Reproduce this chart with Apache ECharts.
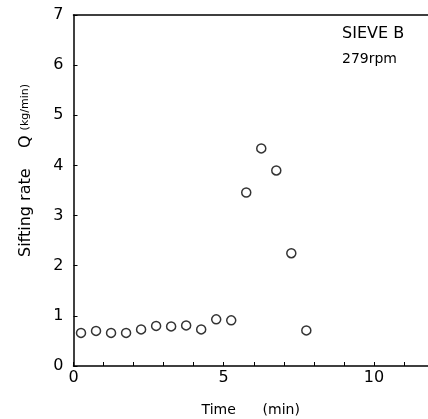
<!DOCTYPE html>
<html>
<head>
<meta charset="utf-8">
<script src="https://cdn.jsdelivr.net/npm/echarts@6/dist/echarts.min.js"></script>
<style>
  html, body { margin: 0; padding: 0; background: #fff; }
  #chart { width: 428px; height: 419px; }
</style>
</head>
<body>
<div id="chart"></div>
<script>
// time (min) and sifting rate Q (kg/min)
const times = [0.25, 0.75, 1.25, 1.75, 2.25, 2.75, 3.25, 3.75, 4.25, 4.75, 5.25, 5.75, 6.25, 6.75, 7.25, 7.75]
const rates = [0.66, 0.70, 0.66, 0.66, 0.73, 0.80, 0.79, 0.81, 0.73, 0.93, 0.91, 3.46, 4.34, 3.90, 2.25, 0.71]
const xLabels = ['0', '5', '10']
const yLabels = ['0', '1', '2', '3', '4', '5', '6', '7']

const font = '"DejaVu Sans", "Liberation Sans", sans-serif'
const chart = echarts.init(document.getElementById('chart'))

chart.setOption({
  animation: false,
  backgroundColor: '#fff',
  grid: { left: 73.5, top: 15, right: 0, bottom: 53, containLabel: false, outerBoundsMode: 'none' },
  xAxis: [
    {
      type: 'value',
      min: 0,
      max: 11.8,
      interval: 1,
      name: 'Time      (min)',
      nameLocation: 'middle',
      nameGap: 37,
      nameTextStyle: { fontFamily: font, fontSize: 14, color: '#000' },
      axisLine: { onZero: false, lineStyle: { color: '#000', width: 1.5 } },
      axisTick: { inside: true, length: 4, lineStyle: { color: '#000' } },
      axisLabel: {
        color: '#000', fontFamily: font, fontSize: 16, margin: 4,
        formatter: v => xLabels.includes(String(v)) ? String(v) : ''
      },
      splitLine: { show: false }
    },
    {
      type: 'value',
      position: 'top',
      min: 0,
      max: 11.8,
      axisLine: { onZero: false, lineStyle: { color: '#000', width: 1.5 } },
      axisTick: { show: false },
      axisLabel: { show: false },
      splitLine: { show: false }
    }
  ],
  yAxis: {
    type: 'value',
    min: 0,
    max: 7,
    interval: 1,
    name: '{a|Sifting rate    Q }{b|(kg/min)}',
    nameLocation: 'middle',
    nameRotate: 90,
    nameGap: 40,
    nameTextStyle: {
      padding: [0, 0, 0, 40],
      rich: {
        a: { fontFamily: font, fontSize: 16, color: '#000' },
        b: { fontFamily: font, fontSize: 11, color: '#000' }
      }
    },
    axisLine: { onZero: false, lineStyle: { color: '#000', width: 1.5 } },
    axisTick: { inside: true, length: 4, lineStyle: { color: '#000' } },
    axisLabel: {
      color: '#000', fontFamily: font, fontSize: 16, margin: 10,
      formatter: v => yLabels[v] || ''
    },
    splitLine: { show: false }
  },
  graphic: [
    { type: 'text', left: 342, top: 26, style: { text: 'SIEVE B', font: '16px ' + font, fill: '#000' } },
    { type: 'text', left: 342, top: 52, style: { text: '279rpm', font: '14px ' + font, fill: '#000' } }
  ],
  series: [
    {
      type: 'scatter',
      data: times.map((t, i) => [t, rates[i]]),
      symbol: 'circle',
      symbolSize: 9,
      itemStyle: { color: '#fff', borderColor: '#000', borderWidth: 1.5 }
    }
  ]
})
</script>
</body>
</html>
